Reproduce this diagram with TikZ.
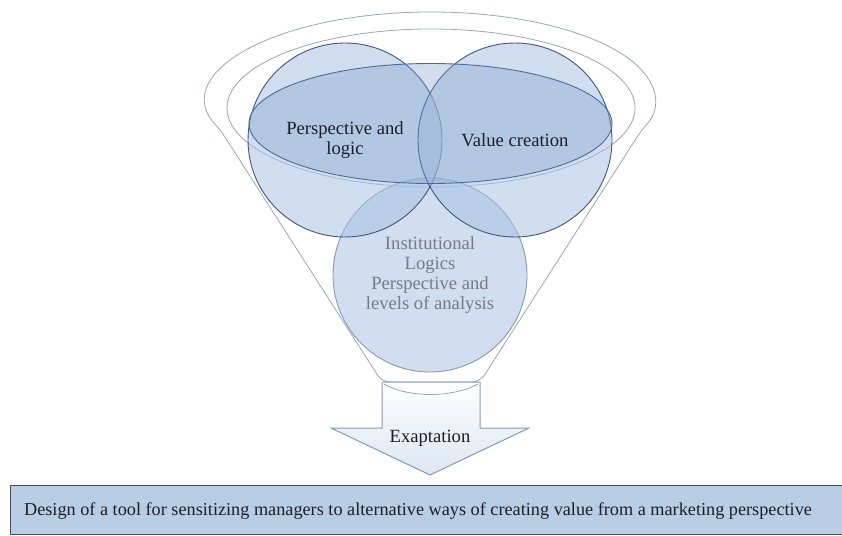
\documentclass[tikz,border=0pt]{standalone}
\usepackage{fontspec}
\setmainfont{Liberation Serif}
\definecolor{circfill}{HTML}{A9C2E3}
\definecolor{rimfill}{HTML}{7F9FCC}
\definecolor{navy}{HTML}{34476A}
\definecolor{rimline}{HTML}{4D6A98}
\definecolor{funnelline}{HTML}{9AA6B8}
\definecolor{lowline}{HTML}{8A99AE}
\definecolor{boxfill}{HTML}{B9CDE5}
\definecolor{boxline}{HTML}{3F4D63}
\definecolor{graytext}{HTML}{767C86}
\definecolor{arrowfill}{HTML}{DCE6F2}
\definecolor{darktext}{HTML}{1A1F2B}
\begin{document}
\begin{tikzpicture}[x=1bp,y=-1bp,
  funnel/.style={draw=funnelline,line width=0.8bp},
  label/.style={align=center,font=\fontsize{18.7}{20}\selectfont,text=darktext},
  circ/.style={circle,minimum size=194bp,inner sep=0pt,fill=circfill,fill opacity=0.55},
  topcirc/.style={circ,draw=navy,line width=0.9bp,draw opacity=0.9},
  lowcirc/.style={circ,draw=lowline,line width=0.9bp,text opacity=1,align=center,text=graytext,font=\fontsize{18.7}{20}\selectfont},
  rim/.style={draw=rimline,line width=0.9bp,fill=rimfill,fill opacity=0.35},
  arrowshape/.style={draw=lowline,line width=1bp,top color=white,bottom color=arrowfill},
  resultbox/.style={draw=boxline,line width=0.8bp,fill=boxfill}]
\useasboundingbox (0,0) rectangle (842,536);
% funnel outline
\draw[funnel,rounded corners=8bp] (220.5,130.1) arc[start angle=160,end angle=380,x radius=224,y radius=88] -- (480,382) -- (382,382) -- cycle;
\draw[funnel] (431,108) ellipse[x radius=204,y radius=79];
% exaptation arrow
\draw[arrowshape] (382,382) -- (480,382) -- (480,428) -- (529,428) -- (430,475) -- (331,428) -- (382,428) -- cycle;
\draw[funnel] (384,384) .. controls (408,398) and (452,398) .. (478,384);
\node[label] (ex) at (430,438) {Exaptation};
% circles
\node[lowcirc] (inst) at (430,275) {Institutional\\Logics\\Perspective and\\levels of analysis};
\node[topcirc] (pl) at (345,140) {};
\node[topcirc] (vc) at (515,140) {};
% rim ellipse
\draw[rim] (430.5,123.5) ellipse[x radius=181.5,y radius=60];
\node[label] (plt) at (pl.center) {Perspective and\\logic};
\node[label] (vct) at (vc.center) {Value creation};
% result box
\draw[resultbox] (10,485) rectangle (846,534);
\node[font=\fontsize{18.3}{20}\selectfont,text=darktext] (res) at (418,511) {Design of a tool for sensitizing managers to alternative ways of creating value from a marketing perspective};
\end{tikzpicture}
\end{document}
